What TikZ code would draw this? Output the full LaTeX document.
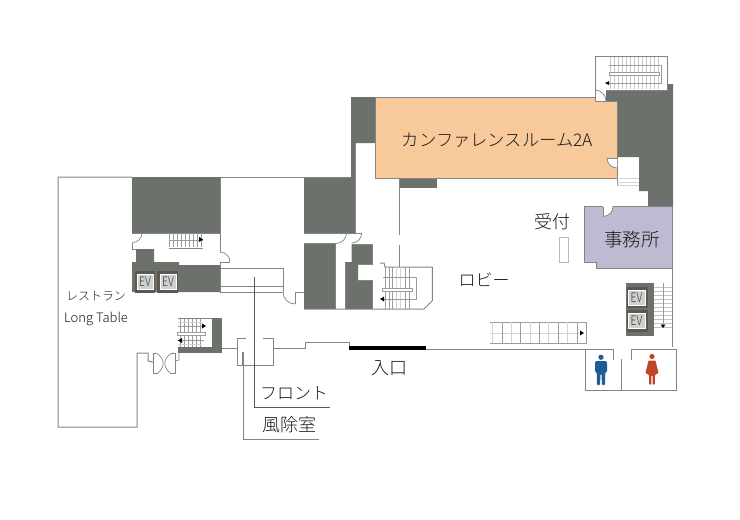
\documentclass[tikz,border=0pt]{standalone}
\usepackage{fontspec}
\usepackage{graphicx}
\setmainfont{Noto Sans CJK JP}[UprightFont=* Light]
\usetikzlibrary{arrows.meta}
\definecolor{darkw}{HTML}{6D716C}
\definecolor{wallc}{HTML}{838584}
\definecolor{orng}{HTML}{F8CA9B}
\definecolor{purp}{HTML}{BDBBD1}
\definecolor{evbrown}{HTML}{5F5650}
\definecolor{evbox}{HTML}{CFD0D0}
\definecolor{stairc}{HTML}{9A9C9B}
\definecolor{stairl}{HTML}{D2D3D3}
\definecolor{menc}{HTML}{1F5C96}
\definecolor{womc}{HTML}{C0442A}
\newcommand{\evtext}{\scalebox{.8}[1]{EV}}
\tikzset{
  wall/.style={draw=wallc,line width=1pt},
  thinw/.style={draw=wallc,line width=.7pt},
  door/.style={draw=wallc,line width=.7pt},
  dk/.style={fill=darkw,draw=none},
  tr/.style={draw=stairc,line width=.6pt},
  trl/.style={draw=stairl,line width=.8pt},
  leader/.style={draw=black!65,line width=.6pt},
  lab/.style={inner sep=0pt,text=black!90},
  evb/.style={fill=evbrown,draw=none},
  evl/.style={fill=evbox,draw=white,line width=.4pt,inner sep=0pt,font=\fontsize{13}{13}\selectfont,text=black!80,align=center},
  arw/.style={fill=black,draw=none}
}
\begin{document}
\begin{tikzpicture}[x=1pt,y=-1pt]
\useasboundingbox (0,0) rectangle (740,520);
% dark solid blocks
\fill[dk] (351,97)--(376,97)--(376,143)--(355,143)--(355,233)--(304,233)--(304,177)--(351,177)--cycle;
\fill[dk] (132,177) rectangle (220,233);
\fill[dk] (136,249)--(154,249)--(154,262)--(179,262)--(179,265)--(220,265)--(220,292)--(132,292)--(132,262)--(136,262)--cycle;
\fill[dk] (304,243) rectangle (335.5,309);
\fill[dk] (351.7,244)--(372.3,244)--(372.3,264.3)--(358,264.3)--(358,280)--(372.3,280)--(372.3,309)--(345.7,309)--(345.7,262)--(351.7,262)--cycle;
\fill[dk] (606,90)--(667,90)--(667,84)--(673,84)--(673,207)--(648,207)--(648,191)--(639,191)--(639,157)--(617,157)--(617,101)--(606,101)--cycle;
\fill[dk] (399,178) rectangle (437,188);
\fill[dk] (212,318) rectangle (222,353);
\fill[dk] (178,347) rectangle (222,353);
\fill[dk] (626,283) rectangle (654,336);
% rooms
\draw[wall,fill=orng] (375.5,97)--(595,97)--(595,101)--(617,101)--(617,178)--(375.5,178)--cycle;
\draw[wall,fill=purp] (584.5,206.5)--(672.7,206.5)--(672.7,268)--(596,268)--(596,262)--(584.5,262)--cycle;
% room doors
\fill[white] (595,90) arc[start angle=-90,end angle=0,radius=11]--(595,101)--cycle;
\draw[door] (595,90) arc[start angle=-90,end angle=0,radius=11];
\draw[wall] (595,90)--(595,101)--(606,101);
\fill[white] (617,168) arc[start angle=90,end angle=180,radius=10]--(617,158)--cycle;
\draw[door] (617,168) arc[start angle=90,end angle=180,radius=10];
\draw[door] (607,158)--(617,158);
\fill[white] (613,206) arc[start angle=0,end angle=90,radius=10]--(603,206)--cycle;
\draw[door] (613,206.5) arc[start angle=0,end angle=90,radius=10];
\draw[door] (603,206.5)--(603,216.5);
% outer walls
\draw[wall] (132,177)--(58,177)--(58,427)--(137,427)--(137,353)--(148,353)--(148,361)--(153,362);
\draw[wall] (220,177)--(351,177);
\draw[wall] (220,177)--(220,233);
\draw[wall] (220,233)--(220,252);
\draw[wall] (220,262)--(220,292);
\draw[wall] (132,233)--(220,233);
\draw[wall] (355,143)--(355,233);
\draw[wall] (304,233)--(361.7,233);
\draw[wall] (304,243)--(335.5,243);
\draw[wall] (304,309)--(424,309)--(432.3,300.7)--(432.3,267)--(385,267)--(384,263)--(380,263);
\draw[wall] (335.5,243)--(335.5,309);
\draw[wall] (345.7,262)--(345.7,309);
\draw[wall] (351.7,244)--(372.3,244)--(372.3,264.3)--(358,264.3);
\draw[wall] (358,280)--(372.3,280)--(372.3,309);
\draw[wall] (399,178)--(399,235);
\draw[wall] (399,245)--(399,267);
\draw[wall] (672.7,268)--(672.7,347);
% small doors
\draw[door] (346.5,233) arc[start angle=0,end angle=90,radius=10.5];
\draw[door] (361.7,233) arc[start angle=0,end angle=90,radius=10];
\draw[door] (142,233) arc[start angle=0,end angle=90,radius=9.5];
\draw[wall] (132,242.5)--(132,249)--(136,249);
\draw[door] (220,252) arc[start angle=-90,end angle=0,radius=10];
\draw[door] (220,262)--(230,262);
% corridor
\draw[wall] (220,268)--(283,268)--(283,292);
\draw[wall] (220,286)--(283,286);
\draw[wall] (220,292)--(283,292);
\draw[door] (283,292) arc[start angle=180,end angle=90,radius=12];
\draw[door] (295,304)--(295,292);
\draw[wall] (295,292)--(304,292);
% EV left
\fill[evb] (135,271) rectangle (155,293);
\fill[evb] (157,271) rectangle (178,293);
\node[evl,minimum width=16pt,minimum height=15pt] (evA) at (145,281.5) {\evtext};
\node[evl,minimum width=16pt,minimum height=15pt] (evB) at (168,281.5) {\evtext};
% EV right
\fill[evb] (627,287) rectangle (648,308);
\fill[evb] (627,310) rectangle (648,332);
\node[evl,minimum width=17pt,minimum height=15pt] (evC) at (636.5,297.5) {\evtext};
\node[evl,minimum width=17pt,minimum height=15pt] (evD) at (636.5,320.5) {\evtext};
% stairs upper-left
\foreach \x in {169,173,177,181,185,189,193,197,201}{\draw[tr] (\x,233)--(\x,247);}
\draw[tr] (169,240)--(203,240);
\draw[wall] (169,248)--(203,248);
\fill[arw] (203,239.5)--(199,237)--(199,242)--cycle;
% stairs lower-left
\foreach \x in {180,184,188,192,196,200}{\draw[tr] (\x,318)--(\x,347);}
\foreach \y in {322,344}{\draw[trl] (178,\y)--(202,\y);}
\draw[tr] (178,326)--(204,326);
\draw[tr] (178,340)--(204,340);
\draw[wall] (178,318)--(212,318);
\draw[tr,fill=white] (177.5,332)rectangle(205,335);
\fill[arw] (206,326)--(202,323.5)--(202,328.5)--cycle;
\fill[arw] (178,340.5)--(182,338)--(182,343)--cycle;
\draw[wall] (222,348)--(237,348);
% double door
\draw[door] (156,353)--(153,353)--(153,373)--(158,373);
\draw[door] (172,353)--(175,353)--(175,373)--(170,373);
\draw[door] (156,353) .. controls (163,357) and (167,365) .. (158,373);
\draw[door] (172,353) .. controls (165,357) and (161,365) .. (170,373);
\draw[thinw] (175,361)--(179,360)--(179,353);
% windbreak
\draw[wall] (246,338)--(237,338)--(237,365)--(273,365)--(273,338)--(263,338);
\draw[wall] (242,352)--(242,365);
\draw[wall] (273,348)--(305,348)--(305,342)--(349,342)--(349,347);
\fill[black] (349,346) rectangle (426,350);
\draw[wall] (426,349)--(585,349);
% leaders
\coordinate (lfa) at (254,277);\coordinate (lfb) at (254,407);\coordinate (lfc) at (330,407);
\draw[leader] (lfa)--(lfb)--(lfc);
\coordinate (lwa) at (243,352);\coordinate (lwb) at (243,439);\coordinate (lwc) at (319,439);
\draw[leader,draw=wallc] (lwa)--(lwb)--(lwc);
% stairs center
\foreach \x in {385.7,389,392.7,405,409}{\draw[tr] (\x,267)--(\x,309);}
\foreach \x in {396,400}{\draw[trl] (\x,267)--(\x,309);}
\draw[draw=stairc,line width=.4pt] (383,277)--(416,277)--(416,299)--(383,299);
\draw[tr,fill=white] (382,288) rectangle (412,291);
\fill[arw] (380,299)--(384,296.5)--(384,301.5)--cycle;
% stairs top-right
\draw[wall] (595,90)--(595,56)--(667,56)--(667,90)--(606,90);
\foreach \x in {610,614,618,622,626,630,634,638,642,646,650,654,658}{\draw[tr,draw=stairl!80!stairc] (\x,57)--(\x,89);}
\draw[draw=stairc,line width=.4pt] (609,65)--(661,65)--(661,83)--(609,83);
\draw[tr,fill=white] (609,72.5) rectangle (659,75.5);
\fill[arw] (605,83)--(609,81)--(609,85)--cycle;
% stairs below conference
\draw[wall] (617,178)--(617,186);
\draw[trl] (617,178)--(639,178);
\draw[trl] (617,182)--(639,182);
\draw[trl] (617,185.5)--(639,185.5);
% right stair
\foreach \y in {287,291,295,299,303,307,311,315,319,323,327}{\draw[tr,draw=stairl!70!stairc] (654,\y)--(672,\y);}
\draw[tr] (663,283)--(663,326);
\fill[arw] (663,328)--(660.5,324.5)--(665.5,324.5)--cycle;
% lobby stair
\draw[tr] (490,322)--(586,322)--(586,343)--(490,343);
\draw[trl] (490,333)--(580,333);
\foreach \x in {492,511,530,548,567}{\draw[trl] (\x,322)--(\x,343);}
\foreach \x in {502,520,539,558,577}{\draw[tr] (\x,322)--(\x,343);}
\fill[arw] (584,333)--(580,330.5)--(580,335.5)--cycle;
% counter
\draw[draw=stairc!70,line width=.7pt] (559,237) rectangle (568,262);
% restroom
\draw[wall] (585,349)--(585,390)--(676,390)--(676,349)--(631,349)--(631,360);
\draw[wall] (585,349)--(613,349)--(613,360);
\draw[wall] (621,359)--(621,390);
% man
\fill[menc] (601,357.3) circle (2.6);
\fill[menc,rounded corners=1pt] (596,361)--(606,361)--(607,362)--(607,372)--(605.3,372)--(605,385)--(602,385)--(601.5,374)--(600.5,374)--(600,385)--(597,385)--(596.7,372)--(595,372)--(595,362)--cycle;
% woman
\fill[womc] (652,356.5) circle (2.6);
\fill[womc,rounded corners=.6pt] (648.5,360.5)--(655.5,360.5)--(658.5,373)--(655,375)--(654.8,384.5)--(652.6,384.5)--(652.6,375.5)--(651.4,375.5)--(651.4,384.5)--(649.2,384.5)--(649,375)--(645.5,373)--cycle;
% labels
\node[lab,font=\fontsize{17.3}{18}\selectfont] (conf) at (497.5,140) {カンファレンスルーム2A};
\node[lab,font=\fontsize{18.5}{19}\selectfont] (off) at (632,239.5) {事務所};
\node[lab,font=\fontsize{18}{18}\selectfont] (rec) at (552.5,222) {受付};
\node[lab,font=\fontsize{17}{17}\selectfont] (lob) at (484,280) {ロビー};
\node[lab,font=\fontsize{18}{18}\selectfont] (ent) at (389,368) {入口};
\node[lab,font=\fontsize{12}{13}\selectfont] (rest) at (96,296.5) {レストラン};
\node[lab,font=\fontsize{13}{13}\selectfont] (ltab) at (96,319) {Long Table};
\node[lab,font=\fontsize{17}{18}\selectfont] (fr) at (294,393) {フロント};
\node[lab,font=\fontsize{18}{18}\selectfont] (wb) at (289,425) {風除室};
\end{tikzpicture}
\end{document}
